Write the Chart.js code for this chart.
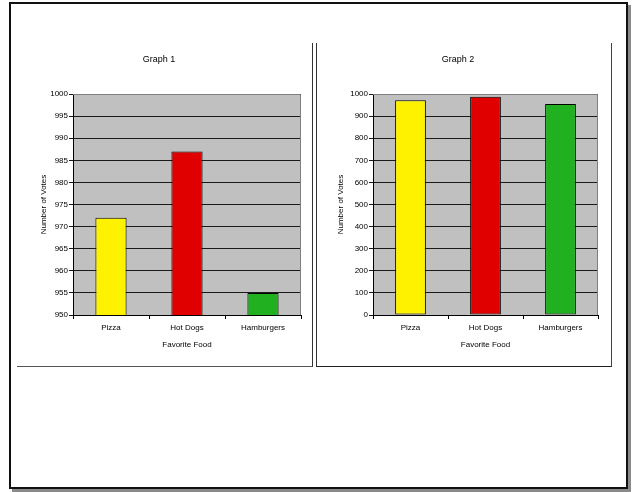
<!DOCTYPE html>
<html>
<head>
<meta charset="utf-8">
<script src="https://cdn.jsdelivr.net/npm/chart.js@4/dist/chart.umd.min.js"></script>
<style>
    body { margin: 0; background: #fff; }
    #pagina { position: relative; width: 637px; height: 492px; overflow: hidden; background: #fff; }
    #moldura {
        position: absolute; left: 9px; top: 2px; width: 615px; height: 483px;
        border: 2px solid #111; box-shadow: 3px 3px 0 #8a8a8a;
    }
    .painel { position: absolute; top: 43px; height: 323px; }
    #painel1 { left: 17px; width: 295px; border-bottom: 1px solid #555; border-right: 1px solid #333; }
    #painel2 { left: 316px; width: 294px; border-left: 1px solid #333; border-right: 1px solid #444; border-bottom: 1px solid #222; }
    canvas { position: absolute; top: 0; }
</style>
</head>
<body>
<div id="pagina">
    <div id="moldura"></div>
    <div class="painel" id="painel1"><canvas id="grafico1" width="295" height="323" style="left:0"></canvas></div>
    <div class="painel" id="painel2"><canvas id="grafico2" width="293" height="323" style="left:1px"></canvas></div>
</div>
<script>
// dados
const comidas = ['Pizza', 'Hot Dogs', 'Hamburgers'];
const votos = [972, 987, 955];
const coresBarras = ['#FFF200', '#E00000', '#20B020'];
const escala1 = [950, 1000, 5];   // min, max, passo
const escala2 = [0, 1000, 100];

const fonte = 'Liberation Sans, Arial, sans-serif';

// fundo cinza da area do grafico + borda cinza em cima e na direita
const fundoCinza = {
    id: 'fundoCinza',
    beforeDraw(chart) {
        const { ctx, chartArea } = chart;
        ctx.save();
        ctx.fillStyle = '#C0C0C0';
        ctx.fillRect(chartArea.left, chartArea.top, chartArea.right - chartArea.left, chartArea.bottom - chartArea.top);
        ctx.restore();
    },
    beforeDatasetsDraw(chart) {
        const { ctx, chartArea } = chart;
        ctx.save();
        ctx.strokeStyle = '#808080';
        ctx.lineWidth = 1;
        ctx.beginPath();
        ctx.moveTo(chartArea.left, chartArea.top + 0.5);
        ctx.lineTo(chartArea.right - 0.5, chartArea.top + 0.5);
        ctx.lineTo(chartArea.right - 0.5, chartArea.bottom);
        ctx.stroke();
        ctx.restore();
    }
};

function criarGrafico(id, titulo, escala, larguraY, paddingDireita, paddingTituloY) {
    new Chart(document.getElementById(id), {
        type: 'bar',
        data: {
            labels: comidas,
            datasets: [{
                data: votos,
                backgroundColor: coresBarras,
                borderColor: '#000',
                borderWidth: 1,
                borderSkipped: false,
                barPercentage: 0.41,
                categoryPercentage: 1
            }]
        },
        options: {
            responsive: false,
            animation: false,
            devicePixelRatio: 1,
            layout: { padding: { left: 0, right: paddingDireita, top: 0, bottom: 0 } },
            plugins: {
                legend: { display: false },
                tooltip: { enabled: false },
                title: {
                    display: true,
                    text: titulo,
                    color: '#000',
                    font: { family: fonte, size: 9, weight: 'normal' },
                    padding: { top: 11.6, bottom: 28.6 }
                }
            },
            scales: {
                x: {
                    afterFit(scale) { scale.height = 51; },
                    grid: {
                        offset: true,
                        drawOnChartArea: false,
                        drawTicks: true,
                        tickLength: 4,
                        color: '#000'
                    },
                    border: { display: true, color: '#000' },
                    ticks: {
                        color: '#000',
                        autoSkip: false,
                        maxRotation: 0,
                        padding: 4,
                        font: { family: fonte, size: 8 }
                    },
                    title: {
                        display: true,
                        text: 'Favorite Food',
                        color: '#000',
                        font: { family: fonte, size: 8 },
                        padding: { top: 0, bottom: 16 }
                    }
                },
                y: {
                    min: escala[0],
                    max: escala[1],
                    afterFit(scale) { scale.width = larguraY; },
                    grid: {
                        color: '#1a1a1a',
                        tickLength: 4,
                        drawTicks: true
                    },
                    border: { display: true, color: '#000' },
                    ticks: {
                        stepSize: escala[2],
                        color: '#000',
                        padding: 1,
                        font: { family: fonte, size: 8 },
                        callback: (valor) => String(valor)
                    },
                    title: {
                        display: true,
                        text: 'Number of Votes',
                        color: '#000',
                        font: { family: fonte, size: 8 },
                        padding: { top: paddingTituloY, bottom: 0 }
                    }
                }
            }
        },
        plugins: [fundoCinza]
    });
}

criarGrafico('grafico1', 'Graph 1', escala1, 56, 11, 21.6);
criarGrafico('grafico2', 'Graph 2', escala2, 55, 13, 17.6);
</script>
</body>
</html>
